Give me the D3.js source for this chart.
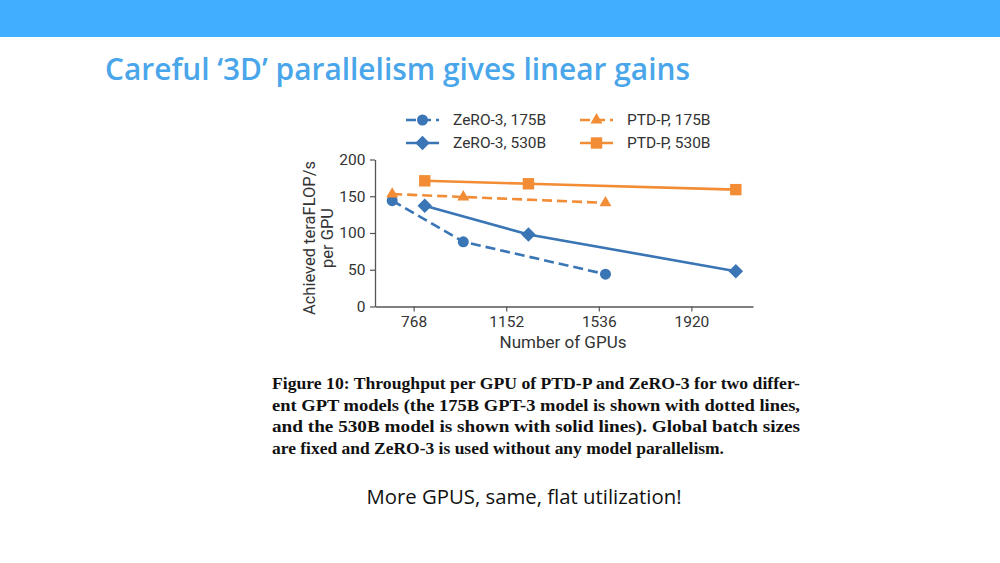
<!DOCTYPE html>
<html>
<head>
<meta charset="utf-8">
<script src="https://cdn.jsdelivr.net/npm/d3@7"></script>
<style>
  body { margin: 0; background: #fff; }
  svg { display: block; }
</style>
</head>
<body>
<svg id="slide" width="1000" height="563"></svg>
<script>
// GPU counts per model (tick labels on the original figure don't match the data positions)
const gpus175 = [384, 768, 1536];
const gpus530 = [560, 1120, 2240];

const zero175 = [144, 88, 44];
const ptdp175 = [153, 149, 141];
const zero530 = [137, 98, 48];
const ptdp530 = [171, 167, 159];

const xTickValues = [500, 1000, 1500, 2000];
const xTickLabels = ["768", "1152", "1536", "1920"];
const yTickValues = [0, 50, 100, 150, 200];

const captionLines = [
  "Figure 10: Throughput per GPU of PTD-P and ZeRO-3 for two differ-",
  "ent GPT models (the 175B GPT-3 model is shown with dotted lines,",
  "and the 530B model is shown with solid lines). Global batch sizes",
  "are fixed and ZeRO-3 is used without any model parallelism."
];
const captionWidths = [528, 528, 528, 452];

const blue = "#3a75b5";
const orange = "#f28c35";

const series = [
  { name: "ZeRO-3, 175B", x: gpus175, y: zero175, color: blue, dashed: true, symbol: d3.symbolCircle, size: 95, rot: 0 },
  { name: "ZeRO-3, 530B", x: gpus530, y: zero530, color: blue, dashed: false, symbol: d3.symbolSquare, size: 105, rot: 45 },
  { name: "PTD-P, 175B", x: gpus175, y: ptdp175, color: orange, dashed: true, symbol: d3.symbolTriangle, size: 62, rot: 0 },
  { name: "PTD-P, 530B", x: gpus530, y: ptdp530, color: orange, dashed: false, symbol: d3.symbolSquare, size: 130, rot: 0 }
];

const svg = d3.select("#slide");

// header band + title
svg.append("rect").attr("x", 0).attr("y", 0).attr("width", 1000).attr("height", 37).attr("fill", "#42aeff");
svg.append("text")
  .attr("x", 105).attr("y", 80)
  .attr("font-family", "'Open Sans', 'Noto Sans', sans-serif")
  .attr("font-weight", 600)
  .attr("font-size", 30)
  .attr("fill", "#4aa6ea")
  .attr("textLength", 585)
  .attr("lengthAdjust", "spacingAndGlyphs")
  .text("Careful \u20183D\u2019 parallelism gives linear gains");

// chart
const x = d3.scaleLinear().domain([291.2, 2332.8]).range([375, 753]);
const y = d3.scaleLinear().domain([0, 200]).range([306.5, 159.5]);

const axisColor = "#555";
const tickFont = "Roboto, 'DejaVu Sans', sans-serif";

const gx = svg.append("g")
  .attr("transform", `translate(0,${y(0)})`)
  .call(d3.axisBottom(x).tickValues(xTickValues)
    .tickFormat((d, i) => xTickLabels[i]).tickSize(5).tickSizeOuter(0));
const gy = svg.append("g")
  .attr("transform", `translate(${x.range()[0]},0)`)
  .call(d3.axisLeft(y).tickValues(yTickValues).tickSize(5).tickSizeOuter(0));

[gx, gy].forEach(g => {
  g.select(".domain").attr("stroke", axisColor).attr("stroke-width", 1.3);
  g.selectAll(".tick line").attr("stroke", axisColor).attr("stroke-width", 1.2);
  g.selectAll(".tick text")
    .attr("font-family", tickFont).attr("font-size", 15.5).attr("fill", "#333");
});
gx.selectAll(".tick text").attr("dy", "0.78em");
gy.selectAll(".tick text").attr("dx", "-0.1em");

svg.append("text")
  .attr("x", 563).attr("y", 348)
  .attr("text-anchor", "middle")
  .attr("font-family", tickFont).attr("font-size", 17).attr("fill", "#333")
  .text("Number of GPUs");

const yLab = svg.append("text")
  .attr("transform", `translate(309,${(y(0) + y(200)) / 2 + 5}) rotate(-90)`)
  .attr("text-anchor", "middle")
  .attr("font-family", tickFont).attr("font-size", 16.5).attr("fill", "#333");
yLab.append("tspan").attr("x", 0).attr("dy", "0.35em").text("Achieved teraFLOP/s");
yLab.append("tspan").attr("x", 0).attr("dy", "1.1em").text("per GPU");

const line = d3.line().x(d => x(d[0])).y(d => y(d[1]));

series.forEach(s => {
  const pts = s.x.map((v, i) => [v, s.y[i]]);
  svg.append("path")
    .attr("d", line(pts))
    .attr("fill", "none")
    .attr("stroke", s.color)
    .attr("stroke-width", 2.6)
    .attr("stroke-dasharray", s.dashed ? "10,5" : null);
  svg.append("g").selectAll("path")
    .data(pts)
    .join("path")
    .attr("transform", d => `translate(${x(d[0])},${y(d[1])}) rotate(${s.rot})`)
    .attr("d", d3.symbol(s.symbol, s.size))
    .attr("fill", s.color);
});

// legend, two columns
const legendCols = [406, 580];
const legendRows = [120, 143];
series.forEach((s, k) => {
  const lx = legendCols[Math.floor(k / 2)];
  const ly = legendRows[k % 2];
  const g = svg.append("g").attr("transform", `translate(${lx},${ly})`);
  g.append("line")
    .attr("x1", 0).attr("x2", 33).attr("y1", 0).attr("y2", 0)
    .attr("stroke", s.color).attr("stroke-width", 2.6)
    .attr("stroke-dasharray", s.dashed ? "10,5" : null);
  g.append("path")
    .attr("transform", `translate(16.5,0) rotate(${s.rot})`)
    .attr("d", d3.symbol(s.symbol, s.size))
    .attr("fill", s.color);
  g.append("text")
    .attr("x", 47).attr("y", 0).attr("dy", "0.35em")
    .attr("font-family", tickFont).attr("font-size", 15.5).attr("fill", "#333")
    .text(s.name);
});

// caption
const capY = [389, 410.5, 432, 453.5];
captionLines.forEach((t, i) => {
  svg.append("text")
    .attr("x", 272).attr("y", capY[i])
    .attr("font-family", "'Liberation Serif', 'DejaVu Serif', serif")
    .attr("font-weight", 700)
    .attr("font-size", 16)
    .attr("fill", "#111")
    .attr("textLength", captionWidths[i])
    .attr("lengthAdjust", "spacingAndGlyphs")
    .text(t);
});

svg.append("text")
  .attr("x", 524).attr("y", 504)
  .attr("text-anchor", "middle")
  .attr("font-family", "'Open Sans', 'Noto Sans', sans-serif")
  .attr("font-size", 20)
  .attr("fill", "#111")
  .attr("textLength", 315)
  .attr("lengthAdjust", "spacingAndGlyphs")
  .text("More GPUS, same, flat utilization!");
</script>
</body>
</html>
